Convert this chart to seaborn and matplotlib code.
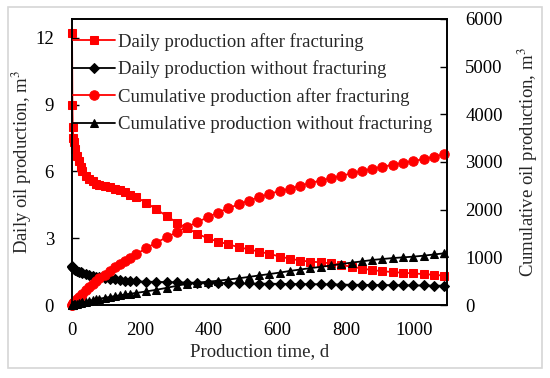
import matplotlib
matplotlib.use("Agg")
import matplotlib.pyplot as plt
import seaborn as sns
from matplotlib.patches import Rectangle

# production time, d
t = [0, 1, 2, 4, 7, 10, 15, 20, 25, 30, 40, 50, 60, 70, 80, 95, 110, 125, 140, 155, 170,
     186, 216, 246, 276, 306, 336, 366, 396, 426, 456, 486, 516, 546, 576, 606, 636, 666,
     696, 726, 756, 786, 816, 846, 876, 906, 936, 966, 996, 1026, 1056, 1086]

# daily oil production, m3 (left axis)
daily_frac = [12.2, 9.0, 8.0, 7.5, 7.3, 7.0, 6.7, 6.45, 6.2, 6.0, 5.8, 5.65, 5.55, 5.45, 5.4,
              5.35, 5.3, 5.22, 5.15, 5.08, 4.95, 4.85, 4.6, 4.3, 4.0, 3.7, 3.45, 3.2, 3.0,
              2.85, 2.73, 2.6, 2.5, 2.4, 2.3, 2.18, 2.08, 2.0, 1.95, 1.92, 1.87, 1.8, 1.72,
              1.64, 1.57, 1.52, 1.48, 1.45, 1.42, 1.39, 1.36, 1.32]
daily_nofrac = [1.75, 1.7, 1.68, 1.65, 1.6, 1.57, 1.53, 1.5, 1.47, 1.45, 1.4, 1.35, 1.3, 1.27,
                1.24, 1.2, 1.17, 1.15, 1.12, 1.1, 1.08, 1.06, 1.05, 1.04, 1.03, 1.02, 1.01,
                1.0, 1.0, 0.99, 0.98, 0.98, 0.97, 0.96, 0.96, 0.95, 0.95, 0.94, 0.94, 0.93,
                0.93, 0.92, 0.91, 0.91, 0.9, 0.9, 0.89, 0.89, 0.88, 0.88, 0.87, 0.87]

# cumulative oil production, m3 (right axis)
cum_frac = [0, 10, 20, 35, 60, 85, 125, 165, 200, 240, 320, 380, 440, 500, 560, 640, 720, 790,
            860, 930, 990, 1060, 1190, 1310, 1420, 1530, 1640, 1740, 1840, 1940, 2030, 2110,
            2190, 2260, 2330, 2390, 2440, 2500, 2560, 2610, 2660, 2710, 2760, 2810, 2860,
            2900, 2940, 2980, 3020, 3060, 3110, 3160]
cum_nofrac = [0, 2, 4, 8, 14, 20, 30, 40, 48, 56, 72, 88, 104, 118, 132, 152, 170, 188, 205,
              222, 238, 252, 285, 320, 360, 405, 445, 470, 490, 510, 535, 560, 590, 620, 650,
              680, 715, 745, 775, 800, 830, 860, 890, 915, 945, 965, 985, 1000, 1015, 1035,
              1060, 1085]

sns.set_theme(style="white")
plt.rcParams['font.family'] = ['Liberation Serif', 'DejaVu Serif']
plt.rcParams['mathtext.fontset'] = 'stix'

fig = plt.figure(figsize=(5.5, 3.78), dpi=100)
ax = fig.add_axes([0.131, 0.193, 0.682, 0.757])
ax2 = ax.twinx()

red = '#ff0000'
sns.lineplot(x=t, y=daily_frac, ax=ax, color=red, marker='s', markersize=6.3,
             markeredgecolor=red, linewidth=1.3, clip_on=False,
             label='Daily production after fracturing')
sns.lineplot(x=t, y=daily_nofrac, ax=ax, color='black', marker='D', markersize=4.8,
             markeredgecolor='black', linewidth=1.3, clip_on=False,
             label='Daily production without fracturing')
sns.lineplot(x=t, y=cum_frac, ax=ax2, color=red, marker='o', markersize=6.8,
             markeredgecolor=red, linewidth=1.3, clip_on=False,
             label='Cumulative production after fracturing')
sns.lineplot(x=t, y=cum_nofrac, ax=ax2, color='black', marker='^', markersize=6.3,
             markeredgecolor='black', linewidth=1.3, clip_on=False,
             label='Cumulative production without fracturing')

ax.set_xlim(0, 1095)
ax.set_ylim(0, 12.85)
ax2.set_ylim(0, 6000)
ax.set_xticks([0, 200, 400, 600, 800, 1000])
ax.set_yticks([0, 3, 6, 9, 12])
ax2.set_yticks([0, 1000, 2000, 3000, 4000, 5000, 6000])

fs = 13.5
ax.set_xlabel('Production time, d', fontsize=fs, labelpad=3)
ax.set_ylabel('Daily oil production, m$^3$', fontsize=fs, labelpad=1)
ax2.set_ylabel('Cumulative oil production, m$^3$', fontsize=fs, labelpad=9)

for a in (ax, ax2):
    a.tick_params(direction='in', length=5, width=1, labelsize=fs, colors='black', pad=13)
    for s in a.spines.values():
        s.set_color('black')
        s.set_linewidth(1.2)
ax.tick_params(axis='x', pad=12)

h1, l1 = ax.get_legend_handles_labels()
h2, l2 = ax2.get_legend_handles_labels()
ax.get_legend().remove()
ax2.get_legend().remove()
ax2.legend(h1 + h2, l1 + l2, loc='upper left', bbox_to_anchor=(0.003, 0.952), frameon=False,
           fontsize=fs, handlelength=2.25, handletextpad=0.15, labelspacing=0.52,
           borderaxespad=0, borderpad=0)

fig.patches.append(Rectangle((8 / 550, 10 / 378), 534 / 550, 361 / 378, transform=fig.transFigure,
                             fill=False, edgecolor='#d6d6d6', linewidth=1.2))

fig.savefig('out.png', dpi=100)
